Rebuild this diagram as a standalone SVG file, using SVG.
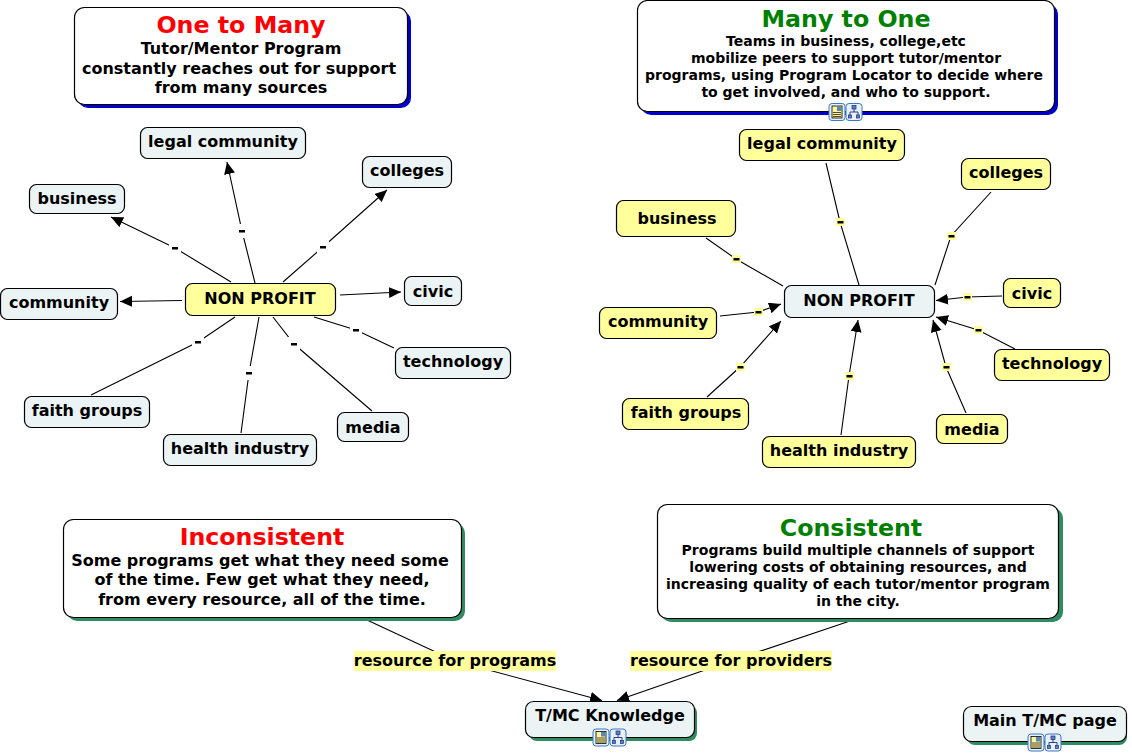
<svg xmlns="http://www.w3.org/2000/svg" xmlns:xlink="http://www.w3.org/1999/xlink" width="1132" height="754" viewBox="0 0 1132 754">
<style>
text{font-family:"DejaVu Sans","Verdana",sans-serif;font-weight:bold;fill:#000;text-anchor:middle}
.n{font-size:16px}
.s{font-size:14px}
.t{font-size:23.7px}
.box{stroke:#000;stroke-width:1.2}
.pale{fill:#ebf3f5}
.yel{fill:#ffff9c}
.wht{fill:#fff}
.blue{fill:#0000cc}
.grn{fill:#2e8b62}
#connectors polyline{stroke:#000;stroke-width:1.1;fill:none}
.arrow{marker-end:url(#ah)}
.lw{fill:#fff}
.ly{fill:#ffff9c}
.d{fill:#000}
</style>
<defs>
<marker id="ah" markerUnits="userSpaceOnUse" markerWidth="14" markerHeight="12" refX="12" refY="5.5" orient="auto"><path d="M0 0L12 5.500L0 11z" fill="#000"/></marker>
<g id="icons">
<rect x="0" y="0" width="16" height="17" rx="3" fill="#e8f0fa" stroke="#3a78c8"/>
<rect x="3" y="2.500" width="10" height="12" fill="#fff6a0" stroke="#000" stroke-width=".8"/>
<rect x="8" y="3" width="4.500" height="4.500" fill="#5a86b8"/>
<path d="M4 9h8M4 11h8M4 13h8" stroke="#000" stroke-width=".7"/>
<rect x="17" y="0" width="16" height="17" rx="3" fill="#e8f0fa" stroke="#3a78c8"/>
<rect x="23" y="2" width="4" height="3.500" fill="#5a86b8" stroke="#1a2a80" stroke-width=".7"/>
<path d="M25 5.500v3M21 11.500V8.500h8v3" fill="none" stroke="#1a2a80" stroke-width=".9"/>
<rect x="19.500" y="11.500" width="3" height="3" fill="#5a86b8" stroke="#1a2a80" stroke-width=".7"/>
<rect x="27.500" y="11.500" width="3" height="3" fill="#5a86b8" stroke="#1a2a80" stroke-width=".7"/>
</g>
</defs>
<rect width="1132" height="754" fill="#fff"/>

<g id="connectors">
<polyline class="arrow" points="231,282 175,248 111,217"/>
<polyline class="arrow" points="255,283 242,231 227,162"/>
<polyline class="arrow" points="283,282 323,247 387,190"/>
<polyline class="arrow" points="182,300.500 120,301.500"/>
<polyline class="arrow" points="340,295 401,292"/>
<polyline points="314,317 356,330 394,348"/>
<polyline points="273,317 294,344 372,411"/>
<polyline points="259,317 249,373 241,433"/>
<polyline points="235,317 198,342 91,395"/>
<polyline points="706,238 736,259 783,286"/>
<polyline points="826,163 840,222 859,285"/>
<polyline points="991,192 951,236 935,285"/>
<polyline class="arrow" points="720,316 758,312 781,304"/>
<polyline class="arrow" points="707,397 740,367 781,321"/>
<polyline class="arrow" points="841,435 849,376 858,320"/>
<polyline class="arrow" points="966,413 946,367 933,320"/>
<polyline class="arrow" points="1015,349 978,330 936,317"/>
<polyline class="arrow" points="1002,296 967,297 936,300.500"/>
<polyline class="arrow" points="367,620 455,661 602,700.500"/>
<polyline class="arrow" points="850,621 731,661 617,700.500"/>
<g class="lw">
<rect x="169" y="241" width="12" height="14"/><rect x="236" y="224" width="12" height="14"/><rect x="317" y="240" width="12" height="14"/><rect x="350" y="323" width="12" height="14"/><rect x="288" y="337" width="12" height="14"/><rect x="243" y="366" width="12" height="14"/><rect x="192" y="335" width="12" height="14"/>
</g>
<g class="ly">
<rect x="732" y="255" width="9" height="8"/><rect x="836" y="218" width="9" height="8"/><rect x="947" y="232" width="9" height="8"/><rect x="754" y="308" width="9" height="8"/><rect x="736" y="363" width="9" height="8"/><rect x="845" y="372" width="9" height="8"/><rect x="942" y="363" width="9" height="8"/><rect x="974" y="326" width="9" height="8"/><rect x="963" y="293" width="9" height="8"/>
<rect x="354" y="651" width="202" height="20"/><rect x="630" y="651" width="202" height="20"/>
</g>
<g class="d">
<rect x="172" y="247" width="6" height="2.500"/><rect x="239" y="230" width="6" height="2.500"/><rect x="320" y="246" width="6" height="2.500"/><rect x="353" y="329" width="6" height="2.500"/><rect x="291" y="343" width="6" height="2.500"/><rect x="246" y="372" width="6" height="2.500"/><rect x="195" y="341" width="6" height="2.500"/>
<rect x="733.500" y="258" width="6" height="2.500"/><rect x="837.500" y="221" width="6" height="2.500"/><rect x="948.500" y="235" width="6" height="2.500"/><rect x="755.500" y="311" width="6" height="2.500"/><rect x="737.500" y="366" width="6" height="2.500"/><rect x="846.500" y="375" width="6" height="2.500"/><rect x="943.500" y="366" width="6" height="2.500"/><rect x="975.500" y="329" width="6" height="2.500"/><rect x="964.500" y="296" width="6" height="2.500"/>
</g>
<text class="n" x="455" y="666">resource for programs</text>
<text class="n" x="731" y="666">resource for providers</text>
</g>

<g id="one-to-many">
<rect class="blue" x="78" y="11" width="333" height="97" rx="10"/>
<rect class="box wht" x="74.500" y="7.500" width="333" height="97" rx="10"/>
<text class="t" x="241" y="33" style="fill:#f00">One to Many</text>
<text class="n" x="241" y="54">Tutor/Mentor Program</text>
<text class="n" x="239" y="74">constantly reaches out for support</text>
<text class="n" x="241" y="93">from many sources</text>
</g>
<g id="many-to-one">
<rect class="blue" x="641" y="4" width="417" height="111" rx="10"/>
<rect class="box wht" x="637.500" y="0.500" width="417" height="111" rx="10"/>
<text class="t" x="846" y="27" style="fill:#008000">Many to One</text>
<text class="s" x="846" y="46">Teams in business, college,etc</text>
<text class="s" x="846" y="63">mobilize peers to support tutor/mentor</text>
<text class="s" x="844" y="80">programs, using Program Locator to decide where</text>
<text class="s" x="846" y="97">to get involved, and who to support.</text>
<use xlink:href="#icons" href="#icons" x="829" y="103.500"/>
</g>
<g id="l-legal"><rect class="box pale" x="140.500" y="127.500" width="165" height="31" rx="7"/><text class="n" x="223" y="147">legal community</text></g>
<g id="l-colleges"><rect class="box pale" x="362.500" y="156.500" width="89" height="31" rx="7"/><text class="n" x="407" y="176">colleges</text></g>
<g id="l-business"><rect class="box pale" x="29.500" y="184.500" width="95" height="29" rx="7"/><text class="n" x="77" y="204">business</text></g>
<g id="l-community"><rect class="box pale" x="0.500" y="288.500" width="117" height="31" rx="7"/><text class="n" x="59" y="308">community</text></g>
<g id="l-nonprofit"><rect class="box yel" x="185.500" y="283.500" width="150" height="32" rx="7"/><text class="n" x="260" y="304">NON PROFIT</text></g>
<g id="l-civic"><rect class="box pale" x="404.500" y="276.500" width="57" height="29" rx="7"/><text class="n" x="433" y="297">civic</text></g>
<g id="l-technology"><rect class="box pale" x="395.500" y="347.500" width="115" height="31" rx="7"/><text class="n" x="453" y="367">technology</text></g>
<g id="l-media"><rect class="box pale" x="337.500" y="412.500" width="71" height="29" rx="7"/><text class="n" x="373" y="433">media</text></g>
<g id="l-health"><rect class="box pale" x="163.500" y="434.500" width="153" height="31" rx="7"/><text class="n" x="240" y="454">health industry</text></g>
<g id="l-faith"><rect class="box pale" x="24.500" y="396.500" width="125" height="31" rx="7"/><text class="n" x="87" y="416">faith groups</text></g>

<g id="r-legal"><rect class="box yel" x="739.500" y="129.500" width="165" height="31" rx="7"/><text class="n" x="822" y="149">legal community</text></g>
<g id="r-colleges"><rect class="box yel" x="961.500" y="158.500" width="89" height="31" rx="7"/><text class="n" x="1006" y="178">colleges</text></g>
<g id="r-business"><rect class="box yel" x="616.500" y="200.500" width="119" height="36" rx="7"/><text class="n" x="677" y="224">business</text></g>
<g id="r-community"><rect class="box yel" x="599.500" y="307.500" width="117" height="31" rx="7"/><text class="n" x="658" y="327">community</text></g>
<g id="r-nonprofit"><rect class="box pale" x="784.500" y="285.500" width="150" height="32" rx="7"/><text class="n" x="859" y="306">NON PROFIT</text></g>
<g id="r-civic"><rect class="box yel" x="1003.500" y="278.500" width="57" height="29" rx="7"/><text class="n" x="1032" y="299">civic</text></g>
<g id="r-technology"><rect class="box yel" x="994.500" y="349.500" width="115" height="31" rx="7"/><text class="n" x="1052" y="369">technology</text></g>
<g id="r-media"><rect class="box yel" x="936.500" y="414.500" width="71" height="29" rx="7"/><text class="n" x="972" y="435">media</text></g>
<g id="r-health"><rect class="box yel" x="762.500" y="436.500" width="153" height="31" rx="7"/><text class="n" x="839" y="456">health industry</text></g>
<g id="r-faith"><rect class="box yel" x="622.500" y="398.500" width="126" height="31" rx="7"/><text class="n" x="686" y="418">faith groups</text></g>

<g id="inconsistent">
<rect class="grn" x="67" y="523" width="398" height="98" rx="10"/>
<rect class="box wht" x="63.500" y="519.500" width="398" height="98" rx="10"/>
<text class="t" x="262" y="545" style="fill:#f00">Inconsistent</text>
<text class="n" x="260" y="566">Some programs get what they need some</text>
<text class="n" x="262" y="585">of the time. Few get what they need,</text>
<text class="n" x="262" y="605">from every resource, all of the time.</text>
</g>
<g id="consistent">
<rect class="grn" x="661" y="508" width="402" height="114" rx="10"/>
<rect class="box wht" x="657.500" y="504.500" width="401" height="114" rx="10"/>
<text class="t" x="851" y="536" style="fill:#008000">Consistent</text>
<text class="s" x="858" y="555">Programs build multiple channels of support</text>
<text class="s" x="858" y="572">lowering costs of obtaining resources, and</text>
<text class="s" x="858" y="589">increasing quality of each tutor/mentor program</text>
<text class="s" x="858" y="606">in the city.</text>
</g>
<g id="knowledge">
<rect class="grn" x="529" y="705" width="168" height="36" rx="8"/>
<rect class="box pale" x="525.500" y="701.500" width="169" height="36" rx="8"/>
<text class="n" x="610" y="721">T/MC Knowledge</text>
<use xlink:href="#icons" href="#icons" x="593" y="729"/>
</g>
<g id="main-page">
<rect class="grn" x="967" y="710" width="160" height="35" rx="8"/>
<rect class="box pale" x="963.500" y="706.500" width="163" height="35" rx="8"/>
<text class="n" x="1045" y="726">Main T/MC page</text>
<use xlink:href="#icons" href="#icons" x="1028" y="734"/>
</g>
</svg>
